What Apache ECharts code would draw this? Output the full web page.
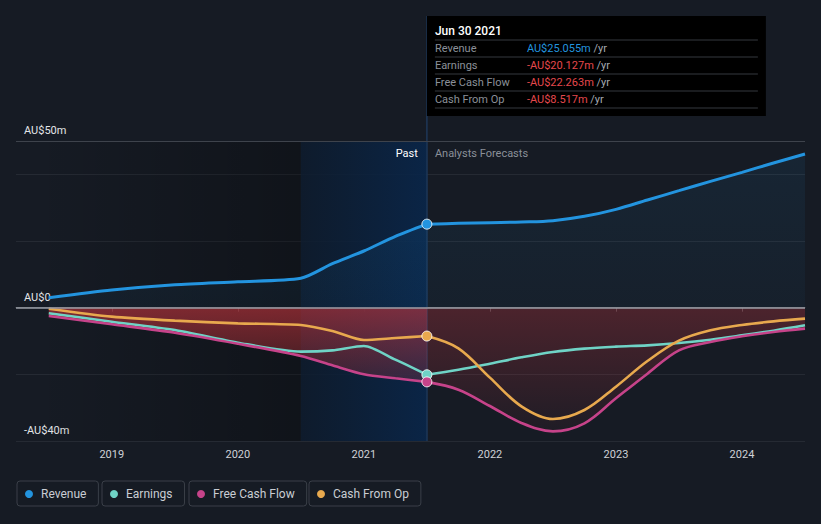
<!DOCTYPE html>
<html><head><meta charset="utf-8">
<script src="https://cdn.jsdelivr.net/npm/echarts@6/dist/echarts.min.js"></script>
<style>html,body{margin:0;padding:0;background:#161b24;}#c{width:821px;height:524px;}</style>
</head><body><div id="c"></div>
<script>
// ---- data (AU$ millions, x = decimal year) ----
const pastX = [2018.5, 2019.0, 2019.5, 2020.0, 2020.5, 2020.75, 2021.0, 2021.25, 2021.5];
const revenuePast = [3.0, 5.3, 6.9, 7.8, 8.8, 13.2, 17.0, 21.4, 25.055];
const earningsPast = [-1.7, -4.2, -6.7, -10.5, -13.2, -12.8, -11.5, -15.6, -20.127];
const fcfPast = [-2.5, -5.0, -7.5, -10.8, -14.5, -17.3, -20.0, -21.2, -22.263];
const cashOpPast = [-0.3, -2.7, -3.9, -4.7, -5.2, -7.0, -9.7, -9.1, -8.517];
const fcX = [2021.5, 2021.75, 2022.0, 2022.25, 2022.5, 2022.75, 2023.0, 2023.25, 2023.5, 2023.75, 2024.0, 2024.25, 2024.5];
const revenueFc = [25.055, 25.3, 25.5, 25.7, 26.1, 27.4, 29.5, 32.3, 35.1, 37.9, 40.6, 43.4, 46.1];
const earningsFc = [-20.127, -18.6, -16.8, -14.9, -13.3, -12.3, -11.7, -11.3, -10.6, -9.6, -8.3, -6.9, -5.3];
const fcfFc = [-22.263, -24.6, -29.5, -34.6, -37.1, -34.7, -27.2, -19.8, -12.8, -10.3, -8.6, -7.3, -6.3];
const cashOpFc = [-8.517, -12.2, -21.0, -29.6, -33.4, -30.7, -23.7, -16.0, -9.9, -6.8, -5.2, -4.1, -3.3];
const yearTicks = [2019, 2020, 2021, 2022, 2023, 2024];
const yLabelValues = [-40, 0, 50];
const seriesNames = ['Revenue', 'Earnings', 'Free Cash Flow', 'Cash From Op'];
const tooltipDate = 'Jun 30 2021';
const splitX = 2021.5;
const highlightStart = 2020.5;

const colors = ['#2394df', '#6fd3c6', '#c6438a', '#e8a94e'];
const pastSets = [revenuePast, earningsPast, fcfPast, cashOpPast];
const fcSets = [revenueFc, earningsFc, fcfFc, cashOpFc];

function fmt(v) {
  return (v < 0 ? '-AU$' : 'AU$') + Math.abs(v).toFixed(3) + 'm';
}
function grad(x2, y2, stops) {
  return new echarts.graphic.LinearGradient(0, 0, x2, y2, stops.map((c, i) => ({offset: i / (stops.length - 1), color: c})));
}

const chart = echarts.init(document.getElementById('c'), null, {renderer: 'svg'});

const series = [];
const areaPast = [
  {color: grad(0, 1, ['rgba(35,148,223,0.12)', 'rgba(35,148,223,0.07)'])},
  null,
  {color: grad(0, 1, ['rgba(210,55,62,0.8)', 'rgba(210,55,62,0.28)'])},
  null
];
const areaFc = [
  {color: grad(0, 1, ['rgba(35,148,223,0.12)', 'rgba(35,148,223,0.06)'])},
  null,
  {color: grad(0, 1, ['rgba(205,55,65,0.42)', 'rgba(205,55,65,0.07)'])},
  null
];
seriesNames.forEach((name, k) => {
  const sp = {
    name, type: 'line', z: 2, smooth: 0.25, symbol: 'none', showSymbol: true,
    color: colors[k],
    itemStyle: {color: colors[k]},
    lineStyle: {color: colors[k], width: k === 0 ? 3 : 2.6},
    data: pastX.map((x, i) => [x, pastSets[k][i]])
  };
  if (areaPast[k]) sp.areaStyle = areaPast[k];
  if (k === 0) {
    sp.markArea = {
      silent: true, z: 1,
      data: [
        [{xAxis: 'min', itemStyle: {color: grad(1, 0, ['rgba(0,0,0,0.02)', 'rgba(0,0,0,0.28)'])}}, {xAxis: highlightStart}],
        [{xAxis: highlightStart, itemStyle: {color: grad(1, 0, ['rgba(13,27,45,0.85)', 'rgba(9,38,74,0.9)'])}}, {xAxis: splitX}]
      ]
    };
  }
  series.push(sp);
});
seriesNames.forEach((name, k) => {
  const data = fcX.map((x, i) => [x, fcSets[k][i]]);
  data[0] = {value: data[0], symbol: 'circle', symbolSize: 10,
    itemStyle: {color: colors[k], borderColor: 'rgba(255,255,255,0.85)', borderWidth: 1}};
  const sf = {
    name, type: 'line', z: 3, smooth: 0.35, symbol: 'none', showSymbol: true,
    color: colors[k],
    itemStyle: {color: colors[k]},
    lineStyle: {color: colors[k], width: k === 0 ? 3 : 2.6},
    data
  };
  if (areaFc[k]) sf.areaStyle = areaFc[k];
  if (k === 0) {
    sf.markLine = {
      silent: true, symbol: ['none', 'none'], label: {show: false}, z: 5,
      data: [
        {yAxis: 50, lineStyle: {color: '#3e434c', width: 1, type: 'solid'}},
        {yAxis: 0, lineStyle: {color: '#9a9ea6', width: 1.5, type: 'solid'}}
      ]
    };
  }
  if (k === 1) {
    sf.markLine = {
      silent: true, symbol: ['none', 'none'], label: {show: false}, z: 2,
      data: [{xAxis: splitX, lineStyle: {color: '#1d3758', width: 1.5, type: 'solid'}}]
    };
  }
  series.push(sf);
});

const legendLefts = [17, 102, 189, 309];
const legend = seriesNames.map((n, i) => ({
  data: [n], left: legendLefts[i], top: 481, orient: 'horizontal',
  icon: 'circle', itemWidth: 14, itemHeight: 8, itemGap: 0,
  padding: [7, 12, 6, 8], borderColor: '#3a3f48', borderWidth: 1, borderRadius: 3,
  itemStyle: {borderWidth: 0},
  textStyle: {color: '#c9cdd3', fontSize: 12, fontFamily: 'Roboto'}
}));

chart.setOption({
  backgroundColor: '#161b24',
  animation: false,
  textStyle: {fontFamily: 'Roboto'},
  grid: {left: 16, right: 16, top: 141, bottom: 83, containLabel: false},
  legend,
  xAxis: {
    type: 'value', min: 2018.24, max: 2024.5,
    axisLine: {show: true, lineStyle: {color: '#4a4f58', width: 1}},
    axisTick: {show: true, customValues: yearTicks, length: 4, lineStyle: {color: '#4a4f58'}},
    axisLabel: {customValues: yearTicks, margin: 8, color: '#cfd2d7', fontSize: 11, formatter: v => String(Math.round(v))},
    splitLine: {show: false}
  },
  yAxis: {
    type: 'value', min: -40, max: 50, interval: 20,
    axisLine: {show: false}, axisTick: {show: false},
    axisLabel: {
      inside: true, margin: 8, customValues: yLabelValues, color: '#e3e5e8', fontSize: 11,
      verticalAlign: 'bottom', padding: [0, 0, 5, 0],
      formatter: v => v === 0 ? 'AU$0' : (v < 0 ? '-AU$' + Math.abs(v) + 'm' : 'AU$' + v + 'm')
    },
    splitLine: {show: true, lineStyle: {color: '#252a33', width: 1}}
  },
  series
});

// overlay: tooltip box and Past / Forecast labels positioned through the axis scale
const px = chart.convertToPixel({xAxisIndex: 0}, splitX);
const gridTop = chart.convertToPixel({yAxisIndex: 0}, 50);
const rows = seriesNames.map((n, k) => ({name: n, v: fcSets[k][0]}));
const g = [
  {type: 'line', shape: {x1: px, y1: 16, x2: px, y2: gridTop}, style: {stroke: '#1d3758', lineWidth: 1.5}, z: 10},
  {type: 'rect', shape: {x: px, y: 16, width: 339, height: 100}, style: {fill: '#000'}, z: 11},
  {type: 'text', x: px + 8, y: 31, style: {text: tooltipDate, fill: '#ffffff', fontSize: 12, fontWeight: 500, fontFamily: 'Roboto', verticalAlign: 'middle'}, z: 12},
  {type: 'text', x: px - 9, y: 153, style: {text: 'Past', fill: '#ffffff', fontSize: 11, fontFamily: 'Roboto', align: 'right', verticalAlign: 'middle'}, z: 12},
  {type: 'text', x: px + 8, y: 153, style: {text: 'Analysts Forecasts', fill: '#8b9099', fontSize: 11, fontFamily: 'Roboto', verticalAlign: 'middle'}, z: 12}
];
for (let i = 0; i < 5; i++) {
  const y = 40 + i * 17;
  g.push({type: 'line', shape: {x1: px + 8, y1: y, x2: px + 331, y2: y}, style: {stroke: '#35383f', lineWidth: 1}, z: 12});
}
rows.forEach((r, i) => {
  const y = 48.5 + i * 17;
  g.push({type: 'text', x: px + 8, y, style: {text: r.name, fill: '#8b9099', fontSize: 11, fontFamily: 'Roboto', verticalAlign: 'middle'}, z: 12});
  g.push({type: 'text', x: px + 100, y, style: {
    text: '{v|' + fmt(r.v) + '} {u|/yr}', verticalAlign: 'middle', fontFamily: 'Roboto', fontSize: 11,
    rich: {v: {fill: r.v < 0 ? '#e5484d' : '#2394df', fontSize: 11, fontFamily: 'Roboto'}, u: {fill: '#a5a9b0', fontSize: 11, fontFamily: 'Roboto'}}
  }, z: 12});
});
chart.setOption({graphic: g});
</script>
</body></html>
